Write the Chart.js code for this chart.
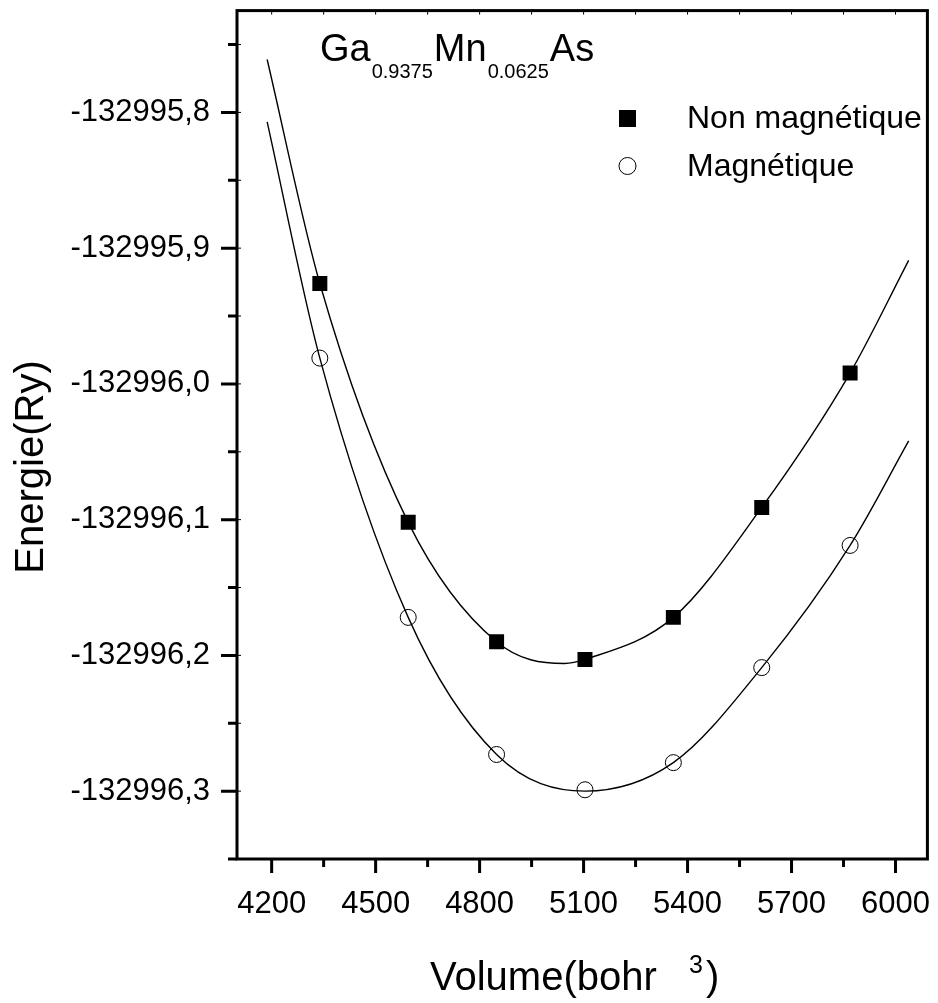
<!DOCTYPE html>
<html>
<head>
<meta charset="utf-8">
<script src="https://cdn.jsdelivr.net/npm/chart.js@4.4.0/dist/chart.umd.min.js"></script>
<style>
  html, body { margin: 0; padding: 0; background: #fff; }
</style>
</head>
<body>
<canvas id="energie" width="938" height="1003"></canvas>
<script>
// volumes (bohr^3) and total energies (Ry)
const volumes = [4339, 4594, 4849, 5104, 5359, 5614, 5869];
const energieNonMag = [-132995.926, -132996.102, -132996.190, -132996.203, -132996.172, -132996.091, -132995.992];
const energieMag = [-132995.981, -132996.172, -132996.273, -132996.299, -132996.279, -132996.209, -132996.119];

// points taken along the fitted E(V) curves
const fitVolNonMag = [4187, 4339, 4594, 4849, 5045, 5104, 5359, 5614, 5869, 6038];
const fitNonMag = [-132995.761, -132995.926, -132996.102, -132996.190, -132996.206, -132996.203, -132996.172, -132996.091, -132995.992, -132995.909];
const fitVolMag = [4187, 4339, 4594, 4849, 5104, 5359, 5614, 5869, 6038];
const fitMag = [-132995.807, -132995.981, -132996.172, -132996.273, -132996.300, -132996.279, -132996.209, -132996.119, -132996.042];

// axis ticks
const xMajor = [4200, 4500, 4800, 5100, 5400, 5700, 6000];
const xMinor = [4350, 4650, 4950, 5250, 5550, 5850];
const yMajor = [-132996.3, -132996.2, -132996.1, -132996.0, -132995.9, -132995.8];
const yMinor = [-132996.35, -132996.25, -132996.15, -132996.05, -132995.95, -132995.85, -132995.75];

const FONT = "'Liberation Sans', Arial, sans-serif";

const toPoints = (xs, ys) => xs.map((x, i) => ({ x: x, y: ys[i] }));

// scales keep a fixed size, no extra room for edge labels
const fixBox = (s, size) => {
  if (s.isHorizontal()) s.height = size;
  else s.width = size;
  s.paddingTop = 0;
  s.paddingBottom = 0;
  s.paddingLeft = 0;
  s.paddingRight = 0;
};

// frame, tick marks, titles and legend
const framePlugin = {
  id: "frame",
  afterDraw(chart) {
    const ctx = chart.ctx;
    const area = chart.chartArea;
    const sx = chart.scales.x;
    const sy = chart.scales.y;
    ctx.save();
    ctx.strokeStyle = "#000";
    ctx.fillStyle = "#000";

    // outer ticks
    ctx.lineWidth = 3;
    ctx.beginPath();
    xMajor.forEach((v) => {
      const px = sx.getPixelForValue(v);
      ctx.moveTo(px, area.bottom);
      ctx.lineTo(px, area.bottom + 14);
    });
    xMinor.forEach((v) => {
      const px = sx.getPixelForValue(v);
      ctx.moveTo(px, area.bottom);
      ctx.lineTo(px, area.bottom + 8);
    });
    yMajor.forEach((v) => {
      const py = sy.getPixelForValue(v);
      ctx.moveTo(area.left, py);
      ctx.lineTo(area.left - 16, py);
    });
    yMinor.forEach((v) => {
      const py = sy.getPixelForValue(v);
      ctx.moveTo(area.left, py);
      ctx.lineTo(area.left - 9, py);
    });
    ctx.stroke();

    // small inner ticks on top and left
    ctx.lineWidth = 1;
    ctx.beginPath();
    xMajor.concat(xMinor).forEach((v) => {
      const px = sx.getPixelForValue(v);
      ctx.moveTo(px, area.top);
      ctx.lineTo(px, area.top + 4);
    });
    yMajor.concat(yMinor).forEach((v) => {
      const py = sy.getPixelForValue(v);
      ctx.moveTo(area.left, py);
      ctx.lineTo(area.left + 4, py);
    });
    ctx.stroke();

    // frame
    ctx.lineWidth = 3;
    ctx.strokeRect(area.left, area.top, area.right - area.left, area.bottom - area.top);

    // compound label
    ctx.textAlign = "left";
    ctx.textBaseline = "alphabetic";
    let x = 320;
    const parts = [["Ga", 38, 61], ["0.9375", 20, 78], ["Mn", 38, 61], ["0.0625", 20, 78], ["As", 38, 61]];
    parts.forEach(([txt, size, base]) => {
      ctx.font = size + "px " + FONT;
      ctx.fillText(txt, x, base);
      x += ctx.measureText(txt).width + 1;
    });

    // legend
    ctx.font = "32px " + FONT;
    ctx.textBaseline = "middle";
    ctx.fillRect(619, 110, 17, 17);
    ctx.fillText("Non magnétique", 687, 119);
    ctx.lineWidth = 1;
    ctx.beginPath();
    ctx.arc(627.5, 166, 8.5, 0, Math.PI * 2);
    ctx.stroke();
    ctx.fillText("Magnétique", 687, 167);

    // axis titles
    ctx.textBaseline = "alphabetic";
    ctx.font = "40px " + FONT;
    ctx.fillText("Volume(bohr", 430, 990);
    ctx.font = "25px " + FONT;
    ctx.fillText("3", 689, 973);
    ctx.font = "40px " + FONT;
    ctx.fillText(")", 706, 990);

    ctx.translate(43, 467);
    ctx.rotate(-Math.PI / 2);
    ctx.textAlign = "center";
    ctx.fillText("Energie(Ry)", 0, 0);
    ctx.restore();
  },
};

const fitStyle = {
  showLine: true,
  pointRadius: 0,
  borderColor: "#000",
  borderWidth: 1.4,
  cubicInterpolationMode: "monotone",
};

new Chart(document.getElementById("energie"), {
  type: "scatter",
  data: {
    datasets: [
      {
        label: "Non magnétique",
        data: toPoints(volumes, energieNonMag),
        pointStyle: "rect",
        pointRadius: 10.6,
        borderWidth: 0,
        backgroundColor: "#000",
      },
      {
        label: "Magnétique",
        data: toPoints(volumes, energieMag),
        pointStyle: "circle",
        pointRadius: 8,
        borderWidth: 1,
        borderColor: "#000",
        backgroundColor: "rgba(0,0,0,0)",
      },
      Object.assign({ label: "fit NM", data: toPoints(fitVolNonMag, fitNonMag) }, fitStyle),
      Object.assign({ label: "fit M", data: toPoints(fitVolMag, fitMag) }, fitStyle),
    ],
  },
  options: {
    responsive: false,
    animation: false,
    devicePixelRatio: 1,
    layout: { padding: { left: 0, top: 10, right: 5.5, bottom: 0 } },
    plugins: { legend: { display: false }, tooltip: { enabled: false } },
    scales: {
      x: {
        type: "linear",
        min: 4100,
        max: 6092,
        afterBuildTicks: (s) => { s.ticks = xMajor.map((v) => ({ value: v })); },
        afterFit: (s) => fixBox(s, 144),
        grid: { display: false, drawTicks: false },
        border: { display: false },
        ticks: {
          color: "#000",
          font: { family: FONT, size: 31 },
          padding: 27,
          maxRotation: 0,
          autoSkip: false,
          callback: (v) => String(v),
        },
      },
      y: {
        type: "linear",
        min: -132996.35,
        max: -132995.725,
        afterBuildTicks: (s) => { s.ticks = yMajor.map((v) => ({ value: v })); },
        afterFit: (s) => fixBox(s, 237),
        grid: { display: false, drawTicks: false },
        border: { display: false },
        ticks: {
          color: "#000",
          font: { family: FONT, size: 31 },
          padding: 27,
          autoSkip: false,
          callback: (v) => v.toFixed(1).replace(".", ","),
        },
      },
    },
  },
  plugins: [framePlugin],
});
</script>
</body>
</html>
